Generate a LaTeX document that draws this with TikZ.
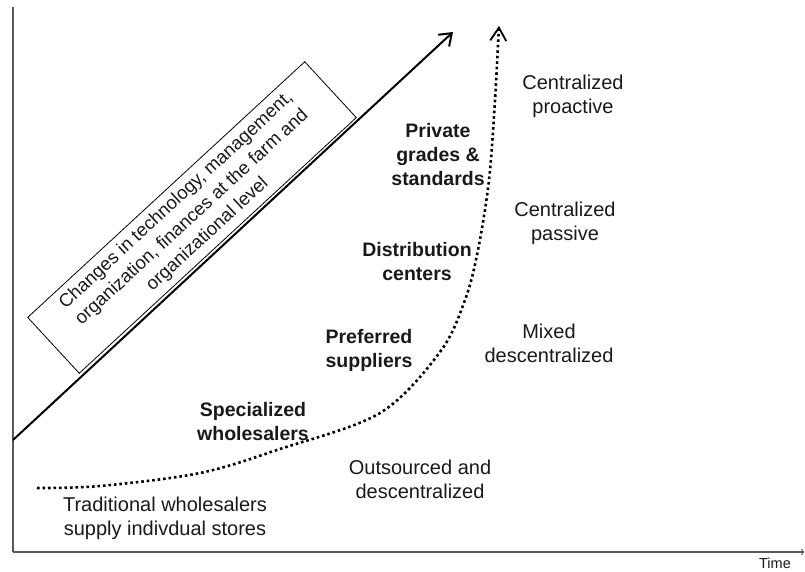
\documentclass[tikz,border=0pt]{standalone}
\usepackage{fontspec}
\setmainfont{Liberation Sans}
\usetikzlibrary{arrows.meta}

\begin{document}
\begin{tikzpicture}[
  x=1pt, y=-1pt,
  every node/.style={font=\fontsize{20}{24}\selectfont, text=black!90,
    align=center, inner sep=0pt},
  stage/.style={font=\fontsize{19.5}{24}\selectfont\bfseries},
  axis/.style={black!65, line width=1.4pt},
  trend/.style={line width=2pt,
    -{Straight Barb[length=11pt, width=16pt, line width=2pt]}},
  evolution/.style={line width=2.6pt, dash pattern=on 2.6pt off 2.9pt,
    -{Straight Barb[length=13pt, width=16pt, line width=1.8pt]}},
]

\useasboundingbox (0,0) rectangle (805,572);

% ---- Axes ----
\coordinate (origin) at (13,552);
\coordinate (ytop) at (13,7);
\coordinate (xend) at (804,552);
\draw[axis] (ytop) -- (origin);
\draw[axis, -{Straight Barb[length=2pt, width=6pt, line width=0.8pt]}] (origin) -- (xend);
\node[font=\fontsize{14.5}{16}\selectfont] (time) at (775,563) {Time};

% ---- Trend arrow and the box lying on it ----
\coordinate (trendstart) at (13,440);
\coordinate (trendend) at (453,32);
\draw[trend] (trendstart) -- (trendend);

\node[draw, line width=0.8pt, rotate=42.7, minimum width=377pt,
      minimum height=76pt, font=\fontsize{18.5}{23}\selectfont]
  (changes) at (192,217.5)
  {Changes in technology, management,\\
   organization, finances at the farm and\\
   organizational level};

% ---- Dotted evolution curve ----
\draw[evolution] plot[smooth, tension=0.55] coordinates {
  (37,488) (100,486) (200,473) (280,449) (380,413) (440,352)
  (465,300) (478,250) (489,180) (495,100) (499,26)};

% ---- Stages along the curve ----
\node[stage] (specialized) at (253,422) {Specialized\\wholesalers};
\node[stage] (preferred) at (369,350) {Preferred\\suppliers};
\node[stage] (centers) at (417,262) {Distribution\\centers};
\node[stage] (grades) at (438,155) {Private\\grades \&\\standards};

% ---- Procurement types ----
\node (traditional) at (165,518) {Traditional wholesalers\\supply indivdual stores};
\node (outsourced) at (420,479) {Outsourced and\\descentralized};
\node (mixed) at (549,343) {Mixed\\descentralized};
\node (passive) at (565,223) {Centralized\\passive};
\node (proactive) at (573,96) {Centralized\\proactive};

\end{tikzpicture}
\end{document}
